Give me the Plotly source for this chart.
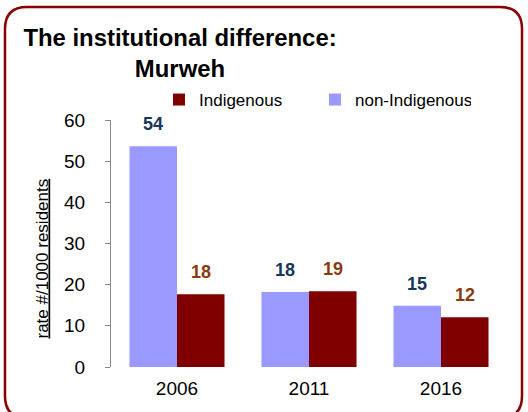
import plotly.graph_objects as go

# Census years
years = ['2006', '2011', '2016']
# rate per 1000 residents
non_indigenous = [53.6, 18.2, 14.9]
indigenous = [17.7, 18.4, 12.1]
non_labels = ['54', '18', '15']
ind_labels = ['18', '19', '12']

FONT = 'Arial, Liberation Sans, sans-serif'
W, H = 528, 412
L, R, T, B = 111, 21, 120, 45


def px(x, y):
    # pixel -> paper coords
    return (x - L) / (W - L - R), (H - B - y) / (H - T - B)


def rounded_rect(x0, y0, x1, y1, r):
    pts = [
        ('M', [(x0 + r, y0)]),
        ('L', [(x1 - r, y0)]),
        ('Q', [(x1, y0), (x1, y0 + r)]),
        ('L', [(x1, y1 - r)]),
        ('Q', [(x1, y1), (x1 - r, y1)]),
        ('L', [(x0 + r, y1)]),
        ('Q', [(x0, y1), (x0, y1 - r)]),
        ('L', [(x0, y0 + r)]),
        ('Q', [(x0, y0), (x0 + r, y0)]),
    ]
    out = ''
    for cmd, ps in pts:
        out += cmd + ' ' + ' '.join('%.4f,%.4f' % px(a, b) for a, b in ps) + ' '
    return out + 'Z'


fig = go.Figure()
fig.add_trace(go.Bar(x=years, y=non_indigenous, name='non-Indigenous',
                     marker=dict(color='#9999FF', line=dict(width=0)), legendrank=2))
fig.add_trace(go.Bar(x=years, y=indigenous, name='Indigenous',
                     marker=dict(color='#800000', line=dict(width=0)), legendrank=1))

# value labels above bars (x as category index, so '2006' isn't read as a number)
for i, (v, t) in enumerate(zip(non_indigenous, non_labels)):
    fig.add_annotation(x=i, y=v, text='<b>%s</b>' % t, showarrow=False, xshift=-24,
                       yshift=22, font=dict(size=18, color='#17365D', family=FONT))
for i, (v, t) in enumerate(zip(indigenous, ind_labels)):
    fig.add_annotation(x=i, y=v, text='<b>%s</b>' % t, showarrow=False, xshift=24,
                       yshift=22, font=dict(size=18, color='#8C3A0C', family=FONT))

# y-axis title sits a bit below the axis middle in the original
ax_x, ax_y = px(30, 259)
fig.add_annotation(x=ax_x, y=ax_y, xref='paper', yref='paper', showarrow=False,
                   text='<u>rate #/1000 residents</u>', textangle=-90,
                   font=dict(size=17, color='black', family=FONT))

fig.add_shape(type='path', xref='paper', yref='paper',
              path=rounded_rect(5, 7, 522, 418, 22),
              line=dict(color='#8B0000', width=2.5))

fig.update_layout(
    width=W, height=H,
    margin=dict(l=L, r=R, t=T, b=B, autoexpand=False),
    paper_bgcolor='white', plot_bgcolor='white',
    barmode='group', bargap=0.28, bargroupgap=0,
    font=dict(family=FONT, color='black'),
    title=dict(text='<b>The institutional difference:<br>Murweh</b>',
               x=180 / W, xanchor='center', xref='container',
               y=1 - 46 / H, yanchor='top', yref='container',
               font=dict(size=23.9, color='black', family=FONT)),
    legend=dict(orientation='h', x=px(159, 0)[0], y=px(0, 100)[1], xanchor='left',
                yanchor='middle', font=dict(size=17, color='black', family=FONT),
                itemwidth=30, entrywidth=111, bgcolor='rgba(0,0,0,0)'),
    xaxis=dict(type='category', showline=False, ticks='', ticklabelstandoff=8,
               tickfont=dict(size=19, color='black')),
    yaxis=dict(range=[0, 60], dtick=10, showgrid=False, zeroline=False,
               showline=True, linecolor='#888888', linewidth=1,
               ticks='outside', ticklen=5, tickcolor='#888888',
               ticklabelstandoff=16,
               tickfont=dict(size=19, color='black')),
)

# drop the browser's default body margin so the figure sits at the page corner
fig.write_html('out.html', config={'displayModeBar': False},
               post_script="document.body.style.margin='0';")
